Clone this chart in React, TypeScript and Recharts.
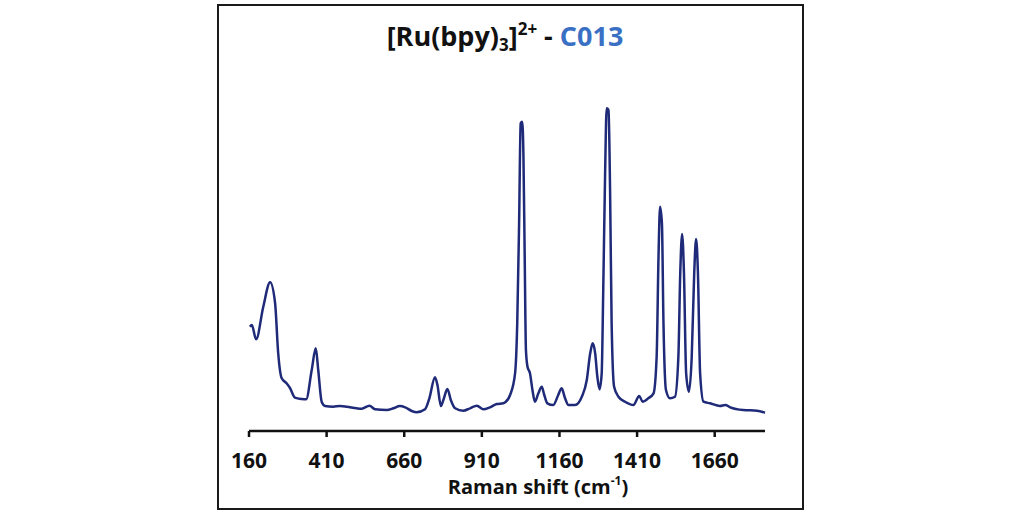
import React from 'react';
import { LineChart, Line, XAxis, YAxis } from 'recharts';

// Raman shift (cm-1)
const shifts = [
  163, 169, 183, 206, 228, 244, 254, 265, 281, 292, 308, 330, 344, 362, 375, 383, 394, 405, 431, 453,
  475, 507, 523, 548, 566, 604, 625, 646, 663, 684, 700, 727, 741, 759, 767, 778, 786, 799, 810, 824,
  850, 872, 894, 915, 936, 958, 979, 985, 1001, 1017, 1024, 1030, 1035, 1040, 1044, 1048, 1052, 1057, 1065, 1073,
  1081, 1092, 1103, 1111, 1121, 1140, 1156, 1167, 1178, 1189, 1210, 1232, 1248, 1259, 1267, 1275, 1282, 1289, 1296, 1301,
  1307, 1312, 1318, 1323, 1328, 1336, 1350, 1371, 1398, 1417, 1428, 1446, 1463, 1473, 1479, 1484, 1490, 1495, 1503, 1516,
  1532, 1543, 1549, 1555, 1561, 1568, 1577, 1586, 1594, 1600, 1606, 1613, 1624, 1645, 1677, 1694, 1710, 1752, 1796, 1822,
];

// intensity (a.u.)
const intensity = [
  104.3, 106, 91.7, 124.3, 148.7, 128, 78, 53, 47.7, 43, 33.3, 32, 31.7, 61, 82.7, 61, 29.3, 25, 24.3, 25,
  24.3, 22.7, 22.3, 25.3, 21.7, 21, 22.7, 25, 23.7, 20, 18.7, 21.7, 32.7, 53.7, 46, 25, 31, 42, 31, 22.7,
  20.3, 22.7, 25.3, 21.7, 23.7, 27, 27.7, 28.7, 36, 57.7, 108, 208, 307.7, 309.3, 274.3, 174.3, 81, 64.3, 57.7, 41,
  29.3, 37.7, 44.3, 36, 27.7, 26, 36, 42.7, 32.7, 26, 26, 34.3, 51, 77.7, 87.7, 77.7, 54.3, 41.7, 57.7, 141,
  257.7, 322.7, 321, 241, 107.7, 44.3, 34.3, 29.3, 26, 35, 29.3, 32.7, 37.7, 74.3, 174.3, 224.3, 207.7, 107.7, 41, 32.7,
  34.3, 74.3, 157.7, 197, 157.7, 57.7, 39.3, 74.3, 157.7, 192, 157.7, 57.7, 29.3, 27.7, 25, 26, 23.7, 21, 20.3, 18.3,
];

const xTicks = [160, 410, 660, 910, 1160, 1410, 1660];

const data = shifts.map((s, i) => ({ shift: s, value: intensity[i] }));

const FONT = '"Open Sans", sans-serif';

export default function App() {
  return (
    <div style={{ position: 'absolute', left: 0, top: 0, width: 1024, height: 513, background: '#fff', fontFamily: FONT }}>
      <div
        style={{
          position: 'absolute',
          left: 217,
          top: 4,
          width: 583,
          height: 502,
          border: '2px solid #1a1a1a',
        }}
      />
      <div
        style={{
          position: 'absolute',
          left: 0,
          width: 1010,
          top: 16,
          textAlign: 'center',
          fontSize: 27,
          fontWeight: 700,
          color: '#111',
          lineHeight: '40px',
        }}
      >
        [Ru(bpy)<sub style={{ fontSize: 17, verticalAlign: '-5px', lineHeight: 0 }}>3</sub>]
        <sup style={{ fontSize: 17, verticalAlign: '11px', lineHeight: 0 }}>2+</sup> - <span style={{ color: '#3a70c4' }}>C013</span>
      </div>
      <LineChart
        width={1024}
        height={513}
        data={data}
        margin={{ top: 101, right: 259, bottom: 42, left: 249 }}
        style={{ position: 'absolute', left: 0, top: 0 }}
      >
        <XAxis
          dataKey="shift"
          type="number"
          domain={[160, 1822]}
          ticks={xTicks}
          height={40}
          axisLine={{ stroke: '#111', strokeWidth: 2.5 }}
          tickLine={{ stroke: '#111', strokeWidth: 2.5 }}
          tickSize={6}
          tickMargin={16}
          tick={{ fill: '#111', fontSize: 21, fontWeight: 700, fontFamily: FONT }}
        />
        <YAxis hide width={0} domain={[0, 330]} />
        <Line
          type="monotone"
          dataKey="value"
          stroke="#1f2a78"
          strokeWidth={2.5}
          dot={false}
          isAnimationActive={false}
        />
      </LineChart>
      <div
        style={{
          position: 'absolute',
          left: 438,
          width: 200,
          top: 474,
          textAlign: 'center',
          fontSize: 20,
          fontWeight: 700,
          color: '#111',
          lineHeight: '26px',
        }}
      >
        Raman shift (cm<sup style={{ fontSize: 12, verticalAlign: '9px', lineHeight: 0 }}>-1</sup>)
      </div>
    </div>
  );
}
